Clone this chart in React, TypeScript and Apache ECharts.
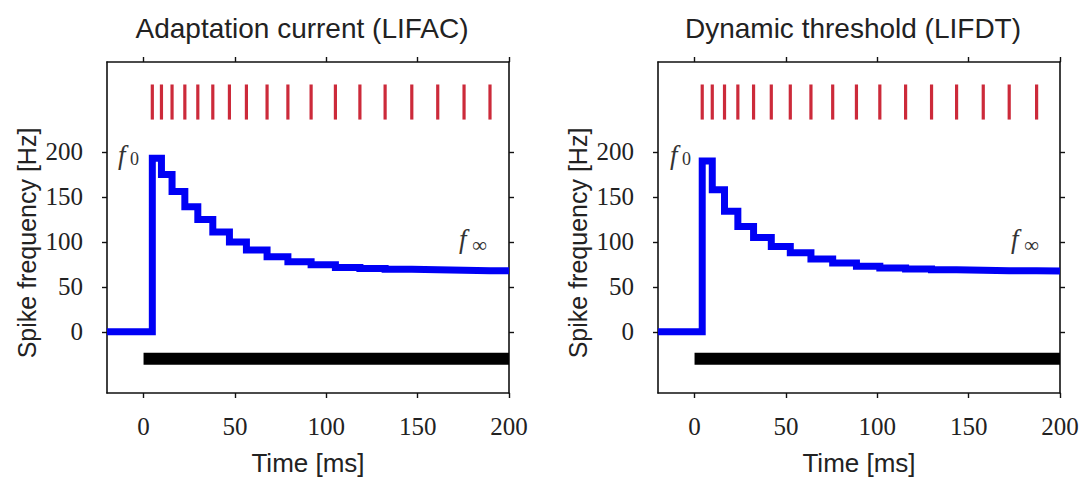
import React, { useEffect, useRef } from "react";
import * as echarts from "echarts";

// ---- data ----
const xTicks = [0, 50, 100, 150, 200];
const yTicks = [0, 50, 100, 150, 200];
const timeMin = -20;
const timeMax = 200;
const freqMin = -68;
const freqMax = 300;

const lifacSpikes = [4.8, 9.8, 15.6, 22.6, 29.7, 37.9, 47, 56.3, 67.6, 79, 91.7, 105, 118.4, 132.2, 146.8, 161, 175.4, 189.6];
const lifacRate = [193, 175, 156, 139, 125, 111, 100, 91, 83.5, 78, 74.5, 71.5, 70.5, 69.5, 69, 68.5, 68, 68];

const lifdtSpikes = [4.2, 9.7, 16.4, 23.7, 32.3, 42, 52.4, 63.7, 75.6, 88.6, 101.4, 115.5, 129.7, 143.4, 158, 172.2, 187.2];
const lifdtRate = [190, 158, 134, 117, 105, 95, 88, 81, 76.5, 73, 71, 70, 69, 68.5, 68, 68, 67.5];

const baselineRate = 0;
const spikeLow = 236;
const spikeHigh = 275;
const stimStart = 0;
const stimEnd = 200;
const stimLevel = -30;

const titles = ["Adaptation current (LIFAC)", "Dynamic threshold (LIFDT)"];
const xName = "Time [ms]";
const yName = "Spike frequency [Hz]";

function stepData(spikes: number[], rate: number[]) {
  const pts: number[][] = [[timeMin, baselineRate]];
  spikes.forEach((t, i) => pts.push([t, rate[i]]));
  pts.push([timeMax, rate[rate.length - 1]]);
  return pts;
}

const panels = [
  { left: 107, spikes: lifacSpikes, rate: lifacRate },
  { left: 658, spikes: lifdtSpikes, rate: lifdtRate },
];
const gridTop = 62;
const gridW = 402;
const gridH = 331;

export default function App() {
  const ref = useRef<HTMLDivElement>(null);
  useEffect(() => {
    if (!ref.current) return;
    const chart = echarts.init(ref.current, null, { renderer: "svg" });

    const axisLine = { show: true, onZero: false, lineStyle: { color: "#111", width: 1.6 } };
    const tickStyle = { lineStyle: { color: "#111", width: 1.4 } };
    const serif = "'Liberation Serif', 'Times New Roman', serif";
    const sans = "'Liberation Sans', Arial, sans-serif";

    const grid: any[] = [];
    const xAxis: any[] = [];
    const yAxis: any[] = [];
    const series: any[] = [];
    const graphic: any[] = [];

    panels.forEach((p, k) => {
      grid.push({ left: p.left, top: gridTop, width: gridW, height: gridH });
      xAxis.push({
        type: "value", gridIndex: k, min: timeMin, max: timeMax, position: "bottom",
        axisLine, splitLine: { show: false },
        axisTick: { show: true, inside: false, length: 5, customValues: xTicks, ...tickStyle },
        axisLabel: { show: true, customValues: xTicks, margin: 21, fontFamily: serif, fontSize: 25, color: "#222" },
      });
      xAxis.push({
        type: "value", gridIndex: k, min: timeMin, max: timeMax, position: "top",
        axisLine, splitLine: { show: false },
        axisTick: { show: true, inside: false, length: 5, customValues: xTicks, ...tickStyle },
        axisLabel: { show: false },
      });
      yAxis.push({
        type: "value", gridIndex: k, min: freqMin, max: freqMax, position: "left",
        axisLine, splitLine: { show: false },
        axisTick: { show: true, inside: false, length: 5, customValues: yTicks, ...tickStyle },
        axisLabel: { show: true, customValues: yTicks, margin: 24, fontFamily: serif, fontSize: 25, color: "#222" },
      });
      yAxis.push({
        type: "value", gridIndex: k, min: freqMin, max: freqMax, position: "right",
        axisLine, splitLine: { show: false },
        axisTick: { show: true, inside: false, length: 5, customValues: yTicks, ...tickStyle },
        axisLabel: { show: false },
      });

      const xi = k * 2;
      const yi = k * 2;

      series.push({
        type: "line", xAxisIndex: xi, yAxisIndex: yi, step: "end",
        data: stepData(p.spikes, p.rate), showSymbol: false, symbol: "none",
        lineStyle: { color: "#0000f5", width: 7, join: "miter", cap: "butt" },
        clip: true, z: 3,
      });
      series.push({
        type: "line", xAxisIndex: xi, yAxisIndex: yi,
        data: [[stimStart, stimLevel], [stimEnd, stimLevel]], showSymbol: false, symbol: "none",
        lineStyle: { color: "#000", width: 12, cap: "butt" }, clip: true, z: 2,
      });
      series.push({
        type: "custom", xAxisIndex: xi, yAxisIndex: yi,
        data: p.spikes.map((t) => [t, spikeLow, spikeHigh]),
        encode: { x: 0, y: [1, 2] },
        renderItem: (_params: any, api: any) => {
          const t = api.value(0);
          const a = api.coord([t, api.value(2)]);
          const b = api.coord([t, api.value(1)]);
          return {
            type: "line",
            shape: { x1: a[0], y1: a[1], x2: b[0], y2: b[1] },
            style: { stroke: "#cc2a3a", lineWidth: 3.2 },
          };
        },
        z: 3,
      });

      const cx = p.left + gridW / 2 - 6;
      graphic.push({
        type: "text", x: cx, y: 28,
        style: { text: titles[k], font: `28px ${sans}`, fill: "#222", textAlign: "center", textVerticalAlign: "middle" },
      });
      graphic.push({
        type: "text", x: p.left + gridW / 2, y: 463,
        style: { text: xName, font: `26px ${sans}`, fill: "#222", textAlign: "center", textVerticalAlign: "middle" },
      });
      graphic.push({
        type: "text", x: p.left - 80, y: 243, rotation: Math.PI / 2,
        style: { text: yName, font: `25px ${sans}`, fill: "#222", textAlign: "center", textVerticalAlign: "middle" },
      });
      const f0x = k === 0 ? 118 : 670;
      graphic.push({
        type: "text", x: f0x, y: 155,
        style: { text: "f", font: `italic 27px ${serif}`, fill: "#333", textAlign: "left", textVerticalAlign: "middle" },
      });
      graphic.push({
        type: "text", x: f0x + 12, y: 159,
        style: { text: "0", font: `18px ${serif}`, fill: "#333", textAlign: "left", textVerticalAlign: "middle" },
      });
      const fix = k === 0 ? 459 : 1011;
      graphic.push({
        type: "text", x: fix, y: 239,
        style: { text: "f", font: `italic 27px ${serif}`, fill: "#333", textAlign: "left", textVerticalAlign: "middle" },
      });
      graphic.push({
        type: "text", x: fix + 13, y: 245,
        style: { text: "∞", font: `21px ${serif}`, fill: "#333", textAlign: "left", textVerticalAlign: "middle" },
      });
    });

    chart.setOption({
      animation: false,
      backgroundColor: "#fff",
      grid, xAxis, yAxis, series, graphic,
    });
    return () => chart.dispose();
  }, []);

  return (
    <div
      ref={ref}
      style={{ position: "fixed", left: 0, top: 0, width: "1083px", height: "477px" }}
    />
  );
}
